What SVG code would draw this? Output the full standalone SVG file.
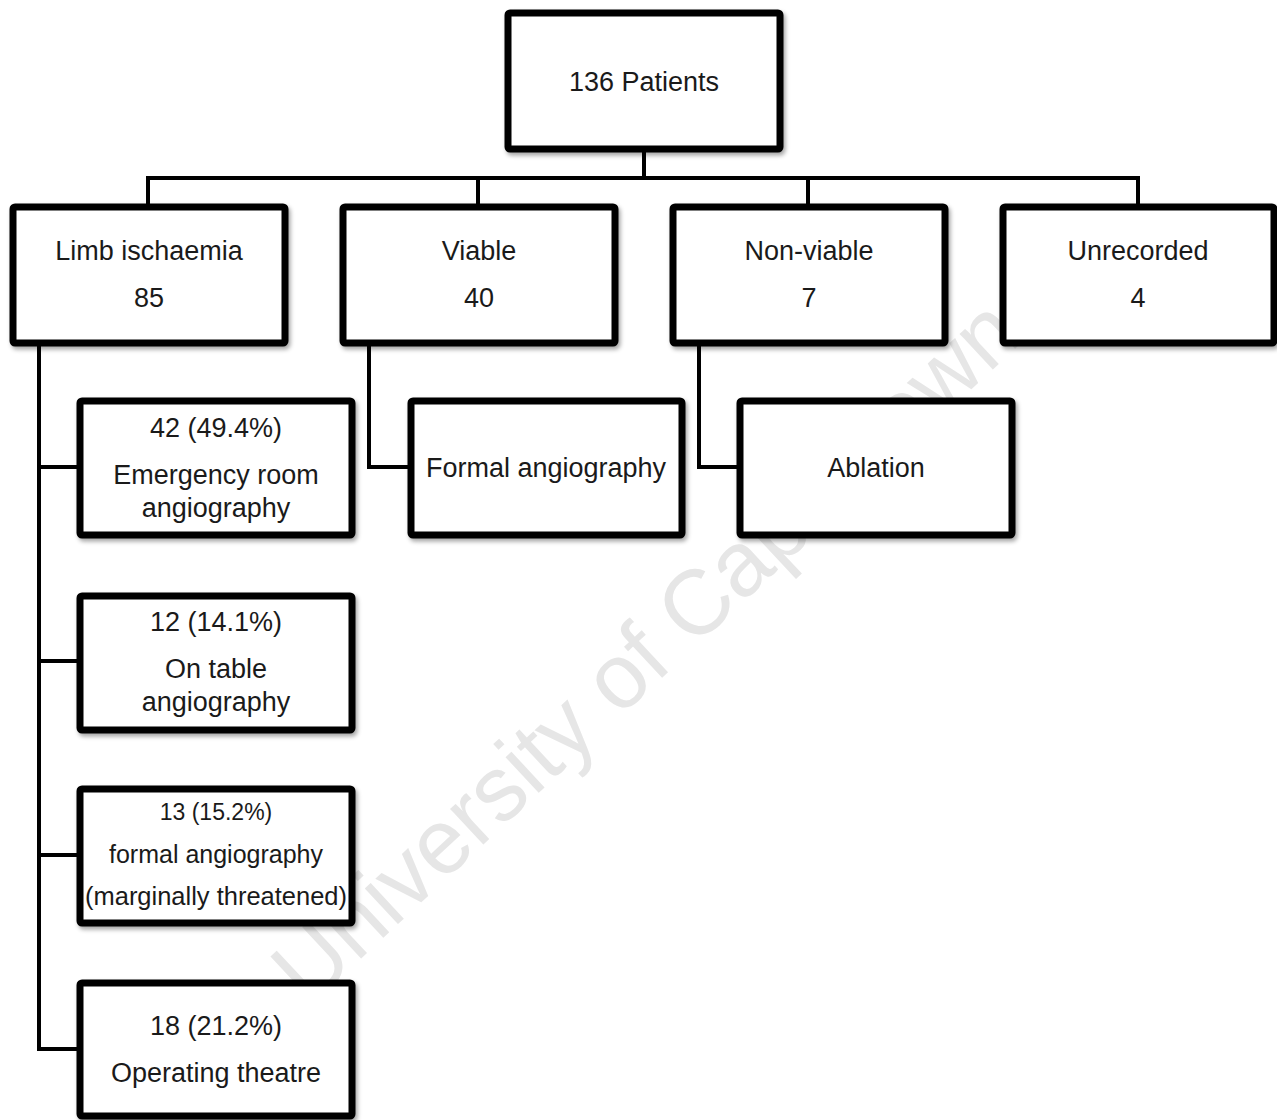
<svg xmlns="http://www.w3.org/2000/svg" width="1277" height="1120" viewBox="0 0 1277 1120">
<defs>
<filter id="sh" x="-10%" y="-10%" width="125%" height="130%">
<feDropShadow dx="2" dy="3" stdDeviation="2" flood-color="#000" flood-opacity="0.35"/>
</filter>
<style>
.box{fill:#fff;stroke:#000;stroke-width:7;filter:url(#sh)}
.t{font-family:"Liberation Sans",Arial,sans-serif;font-size:27px;fill:#1a1a1a;text-anchor:middle}
.s{font-size:23px}
.m{font-size:25px}
.c{fill:none;stroke:#000;stroke-width:4}
.wm{font-family:"Liberation Sans",Arial,sans-serif;font-size:92px;fill:#e6e6e6;text-anchor:middle}
</style>
</defs>
<rect width="1277" height="1120" fill="#fff"/>
<text class="wm" transform="translate(645,650) rotate(-43)" x="0" y="32" textLength="980" lengthAdjust="spacingAndGlyphs">University of Cape Town</text>
<g id="connectors">
<path class="c" d="M644 149V178M148 178H1138M148 176V207M478 178V207M808 178V207M1138 176V207"/>
<path class="c" d="M39 342V1049H80M39 467H80M39 661H80M39 855H80"/>
<path class="c" d="M369 342V467H411"/>
<path class="c" d="M699 342V467H740"/>
</g>
<g id="n-patients"><rect class="box" x="508" y="13" width="272" height="136" rx="2"/><text class="t" x="644" y="91">136 Patients</text></g>
<g id="n-limb"><rect class="box" x="13" y="207" width="272" height="136" rx="2"/><text class="t" x="149" y="260">Limb ischaemia</text><text class="t" x="149" y="307">85</text></g>
<g id="n-viable"><rect class="box" x="343" y="207" width="272" height="136" rx="2"/><text class="t" x="479" y="260">Viable</text><text class="t" x="479" y="307">40</text></g>
<g id="n-nonviable"><rect class="box" x="673" y="207" width="272" height="136" rx="2"/><text class="t" x="809" y="260">Non-viable</text><text class="t" x="809" y="307">7</text></g>
<g id="n-unrecorded"><rect class="box" x="1003" y="207" width="271" height="136" rx="2"/><text class="t" x="1138" y="260">Unrecorded</text><text class="t" x="1138" y="307">4</text></g>
<g id="n-er"><rect class="box" x="80" y="401" width="272" height="134" rx="2"/><text class="t" x="216" y="437">42 (49.4%)</text><text class="t" x="216" y="484">Emergency room</text><text class="t" x="216" y="517">angiography</text></g>
<g id="n-ontable"><rect class="box" x="80" y="596" width="272" height="134" rx="2"/><text class="t" x="216" y="631">12 (14.1%)</text><text class="t" x="216" y="678">On table</text><text class="t" x="216" y="711">angiography</text></g>
<g id="n-formal-mt"><rect class="box" x="80" y="789" width="272" height="134" rx="2"/><text class="t s" x="216" y="820">13 (15.2%)</text><text class="t m" x="216" y="863">formal angiography</text><text class="t m" x="216" y="905" textLength="262" lengthAdjust="spacingAndGlyphs">(marginally threatened)</text></g>
<g id="n-theatre"><rect class="box" x="80" y="983" width="272" height="133" rx="2"/><text class="t" x="216" y="1035">18 (21.2%)</text><text class="t" x="216" y="1082">Operating theatre</text></g>
<g id="n-formal"><rect class="box" x="411" y="401" width="271" height="134" rx="2"/><text class="t" x="546" y="477">Formal angiography</text></g>
<g id="n-ablation"><rect class="box" x="740" y="401" width="272" height="134" rx="2"/><text class="t" x="876" y="477">Ablation</text></g>
</svg>
